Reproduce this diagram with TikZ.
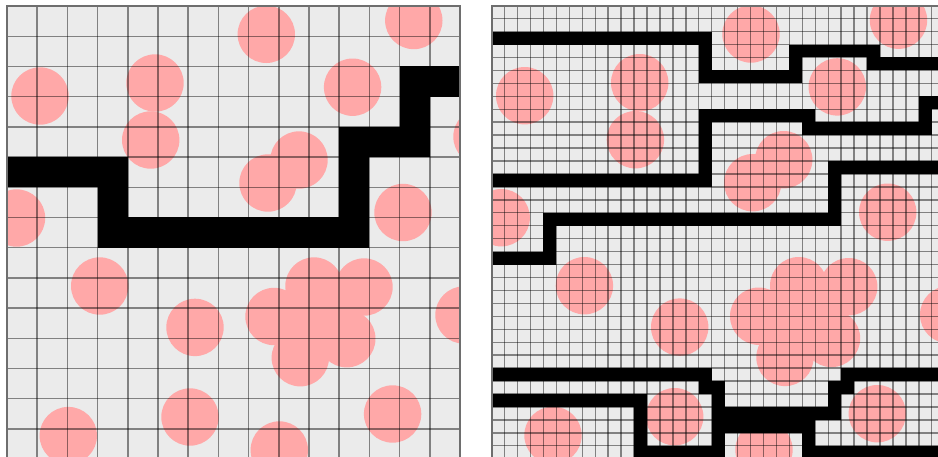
\documentclass[tikz,border=0pt]{standalone}
\usepackage{xcolor}
\usepackage{tikz}
\definecolor{panelbg}{RGB}{235,235,235}
\definecolor{obstaclepink}{RGB}{255,168,168}
\definecolor{framegray}{RGB}{110,110,110}

\newcommand{\obstacles}{%
  \foreach \cx/\cy in {33/90, 148/77, 143.7/134, 9.5/212, 259.3/28.3, 406.8/14.5,
      345.6/81.2, 292/154, 261/177, 396/206.5, 475/130.7, 92.7/280, 188/321.4,
      267/310.5, 307/280, 357/281, 339.8/332.7, 293.3/351.7, 312/310, 457/309,
      183/411, 61.3/429.6, 385.6/408, 272.3/444}
    \fill[obstacle] (\cx,\cy) circle[radius=28.7];}

\begin{document}
\begin{tikzpicture}[
    x=0.02cm, y=-0.02cm,
    obstacle/.style={fill=obstaclepink},
    cellline/.style={draw=black, opacity=0.45, line width=0.8pt},
    route/.style={draw=black, line width=#1, line join=miter},
    panelframe/.style={draw=framegray, line width=1.2pt}
]

\useasboundingbox (0,0) rectangle (938,457);
\clip (0,0) rectangle (938,457);

\begin{scope}[shift={(7,6)}]
  \fill[panelbg] (0,0) rectangle (453,453);
  \begin{scope}
    \clip (0,0) rectangle (453,453);
    \obstacles
  \end{scope}
  \begin{scope}[scale=30.2]
    \foreach \i in {1,...,14} {
      \draw[cellline] (\i,0) -- (\i,15);
      \draw[cellline] (0,\i) -- (15,\i);
    }
    \draw[route=0.604cm] (0,5.5) -- (3.5,5.5) -- (3.5,7.5) -- (11.5,7.5)
      -- (11.5,4.5) -- (13.5,4.5) -- (13.5,2.5) -- (15,2.5);
    \draw[panelframe] (0,0) rectangle (15,15);
  \end{scope}
\end{scope}

\begin{scope}[shift={(491.7,5.7)}]
  \fill[panelbg] (0,0) rectangle (453,453);
  \begin{scope}
    \clip (0,0) rectangle (453,453);
    \obstacles
  \end{scope}
  \begin{scope}[scale=12.943]
    \foreach \i in {1,...,34} {
      \draw[cellline] (\i,0) -- (\i,35);
      \draw[cellline] (0,\i) -- (35,\i);
    }
    \draw[route=0.2589cm] (0,2.5) -- (16.5,2.5) -- (16.5,5.5) -- (23.5,5.5)
      -- (23.5,3.5) -- (29.5,3.5) -- (29.5,4.5) -- (35,4.5);
    \draw[route=0.2589cm] (0,13.5) -- (16.5,13.5) -- (16.5,8.5) -- (24.5,8.5)
      -- (24.5,9.5) -- (33.5,9.5) -- (33.5,7.5) -- (35,7.5);
    \draw[route=0.2589cm] (0,19.5) -- (4.5,19.5) -- (4.5,16.5) -- (26.5,16.5)
      -- (26.5,12.5) -- (35,12.5);
    \draw[route=0.2589cm] (0,28.5) -- (16.5,28.5) -- (16.5,29.5) -- (17.5,29.5)
      -- (17.5,31.5) -- (26.5,31.5) -- (26.5,29.5) -- (27.5,29.5) -- (27.5,28.5)
      -- (35,28.5);
    \draw[route=0.2589cm] (0,30.5) -- (11.5,30.5) -- (11.5,34.5) -- (17.5,34.5)
      -- (17.5,32.5) -- (24.5,32.5) -- (24.5,34.5) -- (35,34.5);
    \draw[panelframe] (0,0) rectangle (35,35);
  \end{scope}
\end{scope}

\end{tikzpicture}
\end{document}
